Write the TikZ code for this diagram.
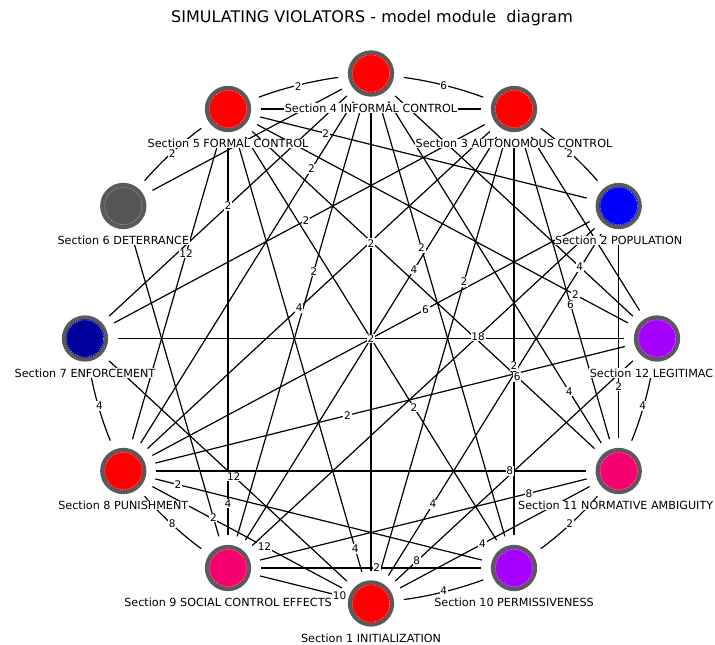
\documentclass[tikz,border=0pt]{standalone}
\usepackage{fontspec}
\setmainfont{DejaVu Sans}
\definecolor{ringgray}{HTML}{5A5A5A}
\definecolor{ringlight}{HTML}{B8B8B8}
\definecolor{cred}{HTML}{FF0000}
\definecolor{cblue}{HTML}{0000FF}
\definecolor{cgray}{HTML}{555555}
\definecolor{cnavy}{HTML}{00009C}
\definecolor{cviolet}{HTML}{A600FF}
\definecolor{cpink}{HTML}{F5006E}
\begin{document}
\begin{tikzpicture}[x=1pt,y=-1pt,
  modnode/.style={circle,minimum size=42.5pt,inner sep=0pt,line width=3.8pt,draw=ringgray},
  innerring/.style={draw=ringlight,line width=0.5pt,dash pattern=on 1.2pt off 1.2pt},
  conn/.style={line width=1.2pt,shorten <=33pt,shorten >=33pt},
  elab/.style={fill=white,inner sep=0.8pt,font=\fontsize{10.5}{11}\selectfont},
  tlab/.style={fill=white,inner sep=0.6pt,font=\fontsize{11.2}{12}\selectfont},
  bendc/.style={bend left=7}]
\useasboundingbox (0,0) rectangle (715,645);
\clip (0,0) rectangle (715,645);
\fill[white] (0,0) rectangle (715,645);
\node[font=\fontsize{16}{18}\selectfont] (title) at (372,18) {SIMULATING VIOLATORS - model module\ \ diagram};
% modules
\foreach \n/\px/\py/\c in {1/371/603.5/cred, 2/618.7/206/cblue, 3/514/109/cred, 4/371/73.5/cred,
  5/228/109/cred, 6/123.3/206/cgray, 7/85/338.5/cnavy, 8/123.3/471/cred,
  9/228/568/cpink, 10/514/568/cviolet, 11/618.7/471/cpink, 12/657/338.5/cviolet}
  {\node[modnode,fill=\c] (n\n) at (\px,\py) {};
   \draw[innerring] (n\n.center) circle[radius=18.6pt];}
% straight connectors
\foreach \a/\b in {5/2,5/12,5/11,5/10,5/1,5/9,5/8,4/7,4/8,4/9,4/1,4/10,4/11,4/12,
  7/3,8/3,3/9,3/1,3/10,3/11,2/8,9/2,1/2,2/11,7/12,7/1,6/9,8/12,8/11,8/10,8/1,
  9/11,9/10,9/1,1/12,11/1,5/3,4/6,3/12}
  {\draw[conn] (n\a.center) -- (n\b.center);}
% curved connectors between neighbours
\foreach \a/\b in {5/4,4/3,3/2,12/11,11/10,10/1,9/8,8/7,6/5}
  {\draw[conn] (n\a.center) to[bendc] (n\b.center);}
% labels of straight connectors
\foreach \a/\b/\p/\t in {5/2/.25/2,5/12/.81/2,5/11/.74/6,5/10/.65/2,5/1/.89/4,5/9/.86/4,5/8/.40/12,
  4/7/.5/2,4/8/.24/2,4/9/.40/2,4/1/.32/2,4/10/.353/2,4/11/.80/4,4/12/.73/4,
  7/3/.515/2,8/3/.45/4,3/9/.35/4,3/1/.35/2,3/10/.56/2,3/11/.54/6,
  2/8/.39/6,9/2/.64/18,1/2/.25/4,2/11/.68/2,7/12/.5/2,7/1/.52/12,6/9/.86/2,
  8/12/.42/2,8/11/.78/8,8/10/.14/2,8/1/.57/12,9/11/.77/8,9/10/.52/2,9/1/.78/10,
  1/12/.16/8,11/1/.55/4}
  {\path (n\a.center) -- (n\b.center) node[elab,pos=\p] {\t};}
% labels of curved connectors
\foreach \a/\b/\t in {5/4/2,4/3/6,3/2/2,12/11/4,11/10/2,10/1/4,9/8/8,8/7/4,6/5/2}
  {\path (n\a.center) to[bendc] node[elab] {\t} (n\b.center);}
% module names
\node[tlab] (t1) at (371,638) {Section 1 INITIALIZATION};
\node[tlab] (t2) at (618.7,240.5) {Section 2 POPULATION};
\node[tlab] (t3) at (514,143.5) {Section 3 AUTONOMOUS CONTROL};
\node[tlab] (t4) at (371,108) {Section 4 INFORMAL CONTROL};
\node[tlab] (t5) at (228,143.5) {Section 5 FORMAL CONTROL};
\node[tlab] (t6) at (123.3,240.5) {Section 6 DETERRANCE};
\node[tlab] (t7) at (85,373) {Section 7 ENFORCEMENT};
\node[tlab] (t8) at (123.3,505.5) {Section 8 PUNISHMENT};
\node[tlab] (t9) at (228,602.5) {Section 9 SOCIAL CONTROL EFFECTS};
\node[tlab] (t10) at (514,602.5) {Section 10 PERMISSIVENESS};
\node[tlab,anchor=east] (t11) at (714,505.5) {Section 11 NORMATIVE AMBIGUITY};
\node[tlab,anchor=east] (t12) at (714,373) {Section 12 LEGITIMAC};
\end{tikzpicture}
\end{document}
